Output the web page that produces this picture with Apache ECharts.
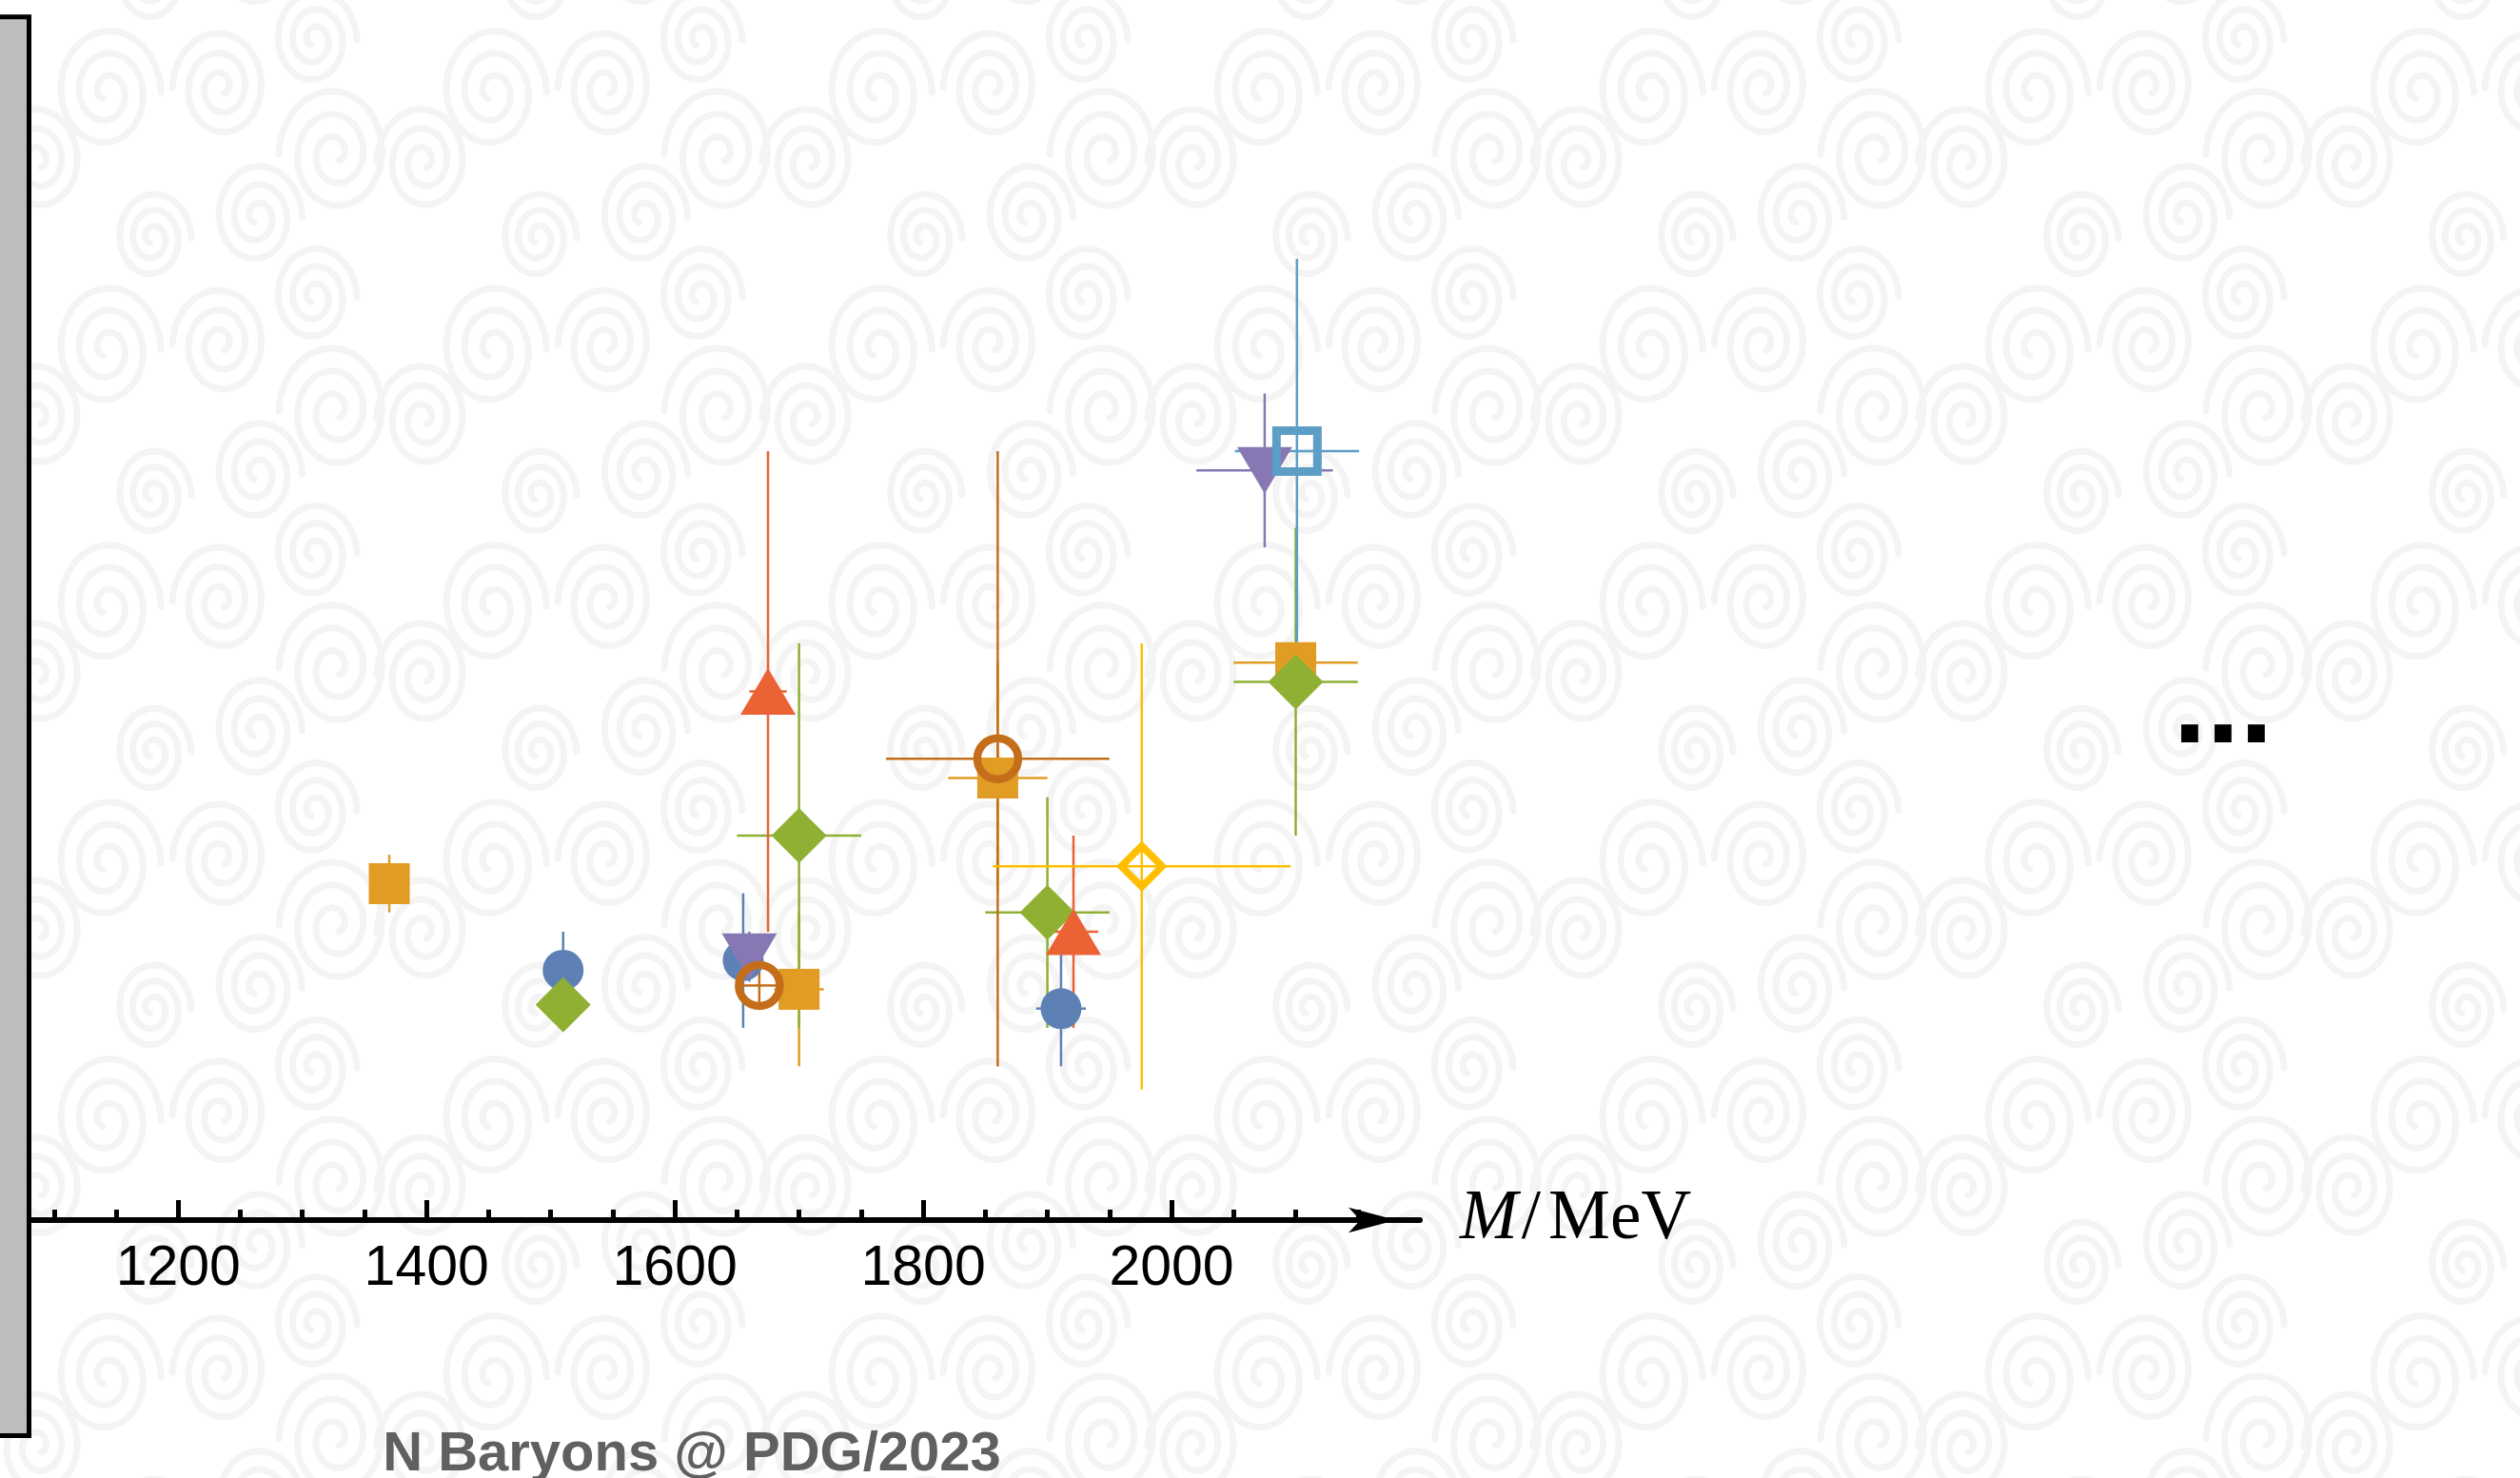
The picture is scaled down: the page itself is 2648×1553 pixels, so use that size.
<!DOCTYPE html>
<html><head><meta charset="utf-8">
<script src="https://cdn.jsdelivr.net/npm/echarts@6/dist/echarts.min.js"></script>
<style>html,body{margin:0;padding:0;background:#fff}#c{width:2648px;height:1553px}</style>
</head><body><div id="c"></div>
<script>
// ---- data (pole mass M and width Γ = -2 Im, MeV), one set per J^P ----
const jpNames = ['1/2-', '1/2+', '3/2-', '3/2+', '5/2-', '5/2+', '7/2-', '7/2+'];

const mass_1m = [1510, 1655, 1911];        const massErr_1m = [10, 15, 20];
const width_1m = [130, 135, 110];          const widthErr_1m = [20, 35, 30];

const mass_1p = [1370, 1700, 1860, 2100];  const massErr_1p = [10, 20, 40, 50];
const width_1p = [175, 120, 230, 290];     const widthErr_1p = [15, 40, 60, 10];

const mass_3m = [1510, 1700, 1900, 2100];  const massErr_3m = [5, 50, 50, 50];
const width_3m = [112, 200, 160, 280];     const widthErr_3m = [8, 100, 60, 80];

const mass_3p = [1675, 1921];              const massErr_3p = [15, 20];
const width_3p = [275, 150];               const widthErr_3p = [125, 50];

const mass_5m = [1660, 2075];              const massErr_5m = [5, 55];
const width_5m = [137, 390];               const widthErr_5m = [13, 40];

const mass_5p = [1668, 1860];              const massErr_5p = [15, 90];
const width_5p = [122, 240];               const widthErr_5p = [10, 160];

const mass_7m = [2101];                    const massErr_7m = [50];
const width_7m = [400];                    const widthErr_7m = [100];

const mass_7p = [1976];                    const massErr_7p = [120];
const width_7p = [184];                    const widthErr_7p = [116];

const tickMajor = [1200, 1400, 1600, 1800, 2000];
const tickMinor = [1100, 1150, 1250, 1300, 1350, 1450, 1500, 1550, 1650, 1700, 1750, 1850, 1900, 1950, 2050, 2100, 2150];

const titleText = 'N Baryons @ PDG/2023';

// ---- styles ----
const sets = [
  [mass_1m, massErr_1m, width_1m, widthErr_1m],
  [mass_1p, massErr_1p, width_1p, widthErr_1p],
  [mass_3m, massErr_3m, width_3m, widthErr_3m],
  [mass_3p, massErr_3p, width_3p, widthErr_3p],
  [mass_5m, massErr_5m, width_5m, widthErr_5m],
  [mass_5p, massErr_5p, width_5p, widthErr_5p],
  [mass_7m, massErr_7m, width_7m, widthErr_7m],
  [mass_7p, massErr_7p, width_7p, widthErr_7p]
];
const styles = [
  {color: '#5E81B5', symbol: 'circle',   size: 43,       rot: 0,   open: false},
  {color: '#E19C24', symbol: 'rect',     size: 43,       rot: 0,   open: false},
  {color: '#8FB032', symbol: 'diamond',  size: 58,       rot: 0,   open: false},
  {color: '#EB6235', symbol: 'triangle', size: [58, 49], rot: 0,   open: false},
  {color: '#8778B3', symbol: 'triangle', size: [58, 49], rot: 180, open: false},
  {color: '#C56E1A', symbol: 'circle',   size: 43,       rot: 0,   open: true, bw: 8.5},
  {color: '#5D9EC7', symbol: 'rect',     size: 43,       rot: 0,   open: true, bw: 9},
  {color: '#FFBF00', symbol: 'diamond',  size: 43,       rot: 0,   open: true, bw: 7.5}
];

// ---- background tile (decorative swirl pattern) ----
function makeTile() {
  const W = 405, H = 270;
  const c = document.createElement('canvas'); c.width = W; c.height = H;
  const g = c.getContext('2d');
  g.fillStyle = '#ffffff'; g.fillRect(0, 0, W, H);
  g.strokeStyle = '#f4f4f4'; g.lineWidth = 7; g.lineCap = 'round';
  const spirals = [[112, 97, 70, 1], [232, 92, 62, -1], [330, 42, 55, 1], [352, 162, 72, -1],
                   [270, 228, 58, 1], [40, 170, 60, -1], [160, 250, 50, 1]];
  for (const dx of [-W, 0, W]) for (const dy of [-H, 0, H]) {
    for (const s of spirals) {
      const [cx, cy, R, dir] = s;
      const tmax = 3.0 * 2 * Math.PI;
      g.beginPath();
      for (let i = 0; i <= 300; i++) {
        const t = 2.2 + (tmax - 2.2) * i / 300;
        const r = R * t / tmax;
        const x = dx + cx + dir * r * Math.cos(t) * 0.82;
        const y = dy + cy + r * Math.sin(t);
        if (i) g.lineTo(x, y); else g.moveTo(x, y);
      }
      g.stroke();
    }
  }
  return c;
}

function errRender(color) {
  return function (params, api) {
    const m = api.value(0), w = api.value(1), me = api.value(2), we = api.value(3);
    const a = api.coord([m - me, w]), b = api.coord([m + me, w]);
    const c = api.coord([m, w - we]), d = api.coord([m, w + we]);
    return {type: 'group', children: [
      {type: 'line', shape: {x1: a[0], y1: a[1], x2: b[0], y2: b[1]}, style: {stroke: color, lineWidth: 2.5}},
      {type: 'line', shape: {x1: c[0], y1: c[1], x2: d[0], y2: d[1]}, style: {stroke: color, lineWidth: 2.5}}
    ]};
  };
}

const series = [];
sets.forEach(function (s, k) {
  const st = styles[k];
  const rows = s[0].map(function (m, i) { return [m, s[2][i], s[1][i], s[3][i]]; });
  series.push({
    type: 'custom', name: jpNames[k] + ' err', xAxisIndex: 0, yAxisIndex: 0,
    renderItem: errRender(st.color), data: rows, encode: {x: 0, y: 1},
    z: 2, clip: false, silent: true
  });
});
sets.forEach(function (s, k) {
  const st = styles[k];
  series.push({
    type: 'scatter', name: jpNames[k], xAxisIndex: 0, yAxisIndex: 0,
    data: s[0].map(function (m, i) { return [m, s[2][i]]; }),
    symbol: st.symbol, symbolSize: st.size, symbolRotate: st.rot,
    itemStyle: st.open ? {color: 'rgba(0,0,0,0)', borderColor: st.color, borderWidth: st.bw, opacity: 1}
                       : {color: st.color, opacity: 1},
    z: 3, clip: false, silent: true
  });
});

const chart = echarts.init(document.getElementById('c'), null, {renderer: 'canvas'});
chart.setOption({
  animation: false,
  backgroundColor: '#ffffff',
  grid: {left: 32, right: 1156, top: 70, bottom: 271, containLabel: false},
  xAxis: [{
    type: 'value', min: 1081, max: 2200, position: 'bottom',
    name: '{i|M}{s|/}{n|MeV}', nameLocation: 'end', nameGap: 42,
    nameTextStyle: {
      fontFamily: 'Liberation Serif', fontSize: 73, color: '#000', verticalAlign: 'middle',
      rich: {
        i: {fontFamily: 'Liberation Serif', fontStyle: 'italic', fontSize: 73, color: '#000'},
        s: {fontFamily: 'Liberation Serif', fontSize: 73, color: '#000', padding: [0, 8, 0, 4]},
        n: {fontFamily: 'Liberation Serif', fontSize: 73, color: '#000'}
      }
    },
    axisLine: {show: true, lineStyle: {color: '#000', width: 6}, symbol: ['none', 'arrow'], symbolSize: [20, 50], symbolOffset: [0, -25]},
    axisTick: {show: true, inside: true, length: 21, customValues: tickMajor, lineStyle: {color: '#000', width: 5}},
    axisLabel: {show: true, customValues: tickMajor, margin: 22, fontFamily: 'Liberation Sans', fontSize: 59, color: '#000',
                formatter: function (v) { return String(Math.round(v)); }},
    splitLine: {show: false}, minorTick: {show: false}
  }, {
    type: 'value', min: 1081, max: 2200, position: 'bottom', gridIndex: 0,
    axisLine: {show: false},
    axisTick: {show: true, inside: true, length: 11, customValues: tickMinor, lineStyle: {color: '#000', width: 5}},
    axisLabel: {show: false}, splitLine: {show: false}
  }],
  yAxis: {type: 'value', min: 0, max: 600, show: false, splitLine: {show: false}},
  graphic: [
    {type: 'rect', z: -100, silent: true, shape: {x: 0, y: 0, width: 2648, height: 1553},
     style: {fill: {image: makeTile(), repeat: 'repeat'}}},
    {type: 'rect', z: 100, silent: true, shape: {x: -10, y: 17.8, width: 40.5, height: 1490.7},
     style: {fill: '#bdbdbd', stroke: '#000', lineWidth: 5}},
    {type: 'text', z: 100, silent: true, x: 2336, y: 745,
     style: {text: '...', font: 'bold 126px "Liberation Sans"', fill: '#000', align: 'center', verticalAlign: 'middle'}},
    {type: 'text', z: 100, silent: true, x: 727, y: 1529,
     style: {text: titleText, font: 'bold 58px "Liberation Sans"', fill: '#606060', align: 'center', verticalAlign: 'middle'}}
  ],
  series: series
});
</script></body></html>
